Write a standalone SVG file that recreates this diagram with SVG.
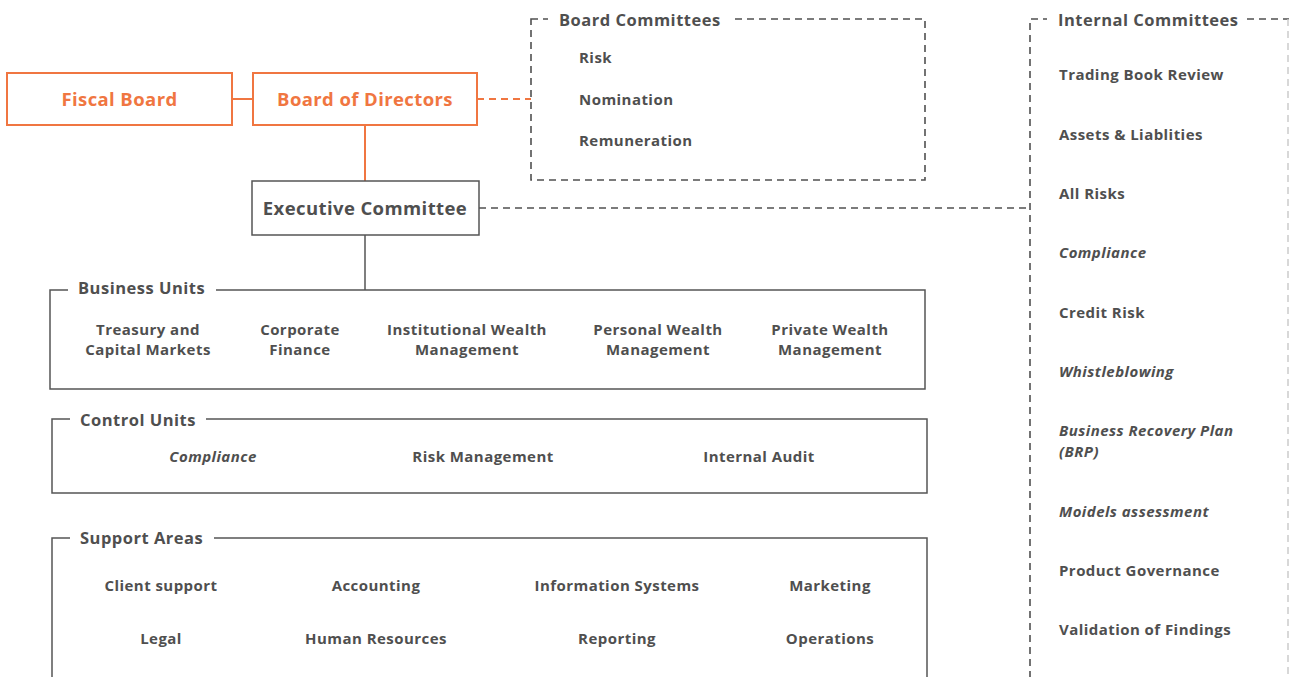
<svg xmlns="http://www.w3.org/2000/svg" width="1289" height="677" viewBox="0 0 1289 677">
  <style>
    text { font-family: "Open Sans", "Liberation Sans", sans-serif; font-weight: 700; fill: #4f4f4f; }
    .node { font-size: 18.5px; letter-spacing: 0.4px; text-anchor: middle; }
    .orange { fill: #f07641; }
    .title { font-size: 16.5px; letter-spacing: 0.5px; }
    .item { font-size: 15px; letter-spacing: 0.45px; }
    .mid { text-anchor: middle; }
    .it { font-style: italic; }
    .box { fill: #fff; stroke: #f07641; stroke-width: 2; }
    .gbox { fill: #fff; stroke: #555; stroke-width: 1.5; }
    .frame { fill: none; stroke: #555; stroke-width: 1.5; }
    .dframe { fill: none; stroke: #505050; stroke-width: 1.6; stroke-dasharray: 7 5; }
    .mask { fill: #fff; }
  </style>

  <!-- connectors -->
  <g id="connectors">
    <line x1="232" y1="99" x2="253" y2="99" stroke="#f07641" stroke-width="2"/>
    <line x1="477" y1="99" x2="531" y2="99" stroke="#f07641" stroke-width="2" stroke-dasharray="7 5"/>
    <line x1="365" y1="125" x2="365" y2="181" stroke="#f07641" stroke-width="2"/>
    <line x1="479" y1="208" x2="1030" y2="208" stroke="#505050" stroke-width="1.6" stroke-dasharray="7 5"/>
    <line x1="365" y1="235" x2="365" y2="290" stroke="#555" stroke-width="1.5"/>
  </g>

  <g id="fiscal-board">
    <rect class="box" x="7" y="73" width="225" height="52"/>
    <text class="node orange" x="119.5" y="105.5">Fiscal Board</text>
  </g>

  <g id="board-of-directors">
    <rect class="box" x="253" y="73" width="224" height="52"/>
    <text class="node orange" x="365" y="105.5">Board of Directors</text>
  </g>

  <g id="executive-committee">
    <rect class="gbox" x="252" y="181" width="227" height="54"/>
    <text class="node" x="365" y="214.5">Executive Committee</text>
  </g>

  <g id="board-committees">
    <rect class="dframe" x="531" y="19" width="394" height="161"/>
    <rect class="mask" x="548" y="8" width="183" height="24"/>
    <text class="title" x="559" y="26">Board Committees</text>
    <text class="item" x="579" y="63">Risk</text>
    <text class="item" x="579" y="105">Nomination</text>
    <text class="item" x="579" y="146">Remuneration</text>
  </g>

  <g id="internal-committees">
    <path class="dframe" d="M1030 690 V19 H1289"/>
    <line x1="1288" y1="19" x2="1288" y2="690" stroke="#ccc" stroke-width="1.5" stroke-dasharray="7 5"/>
    <rect class="mask" x="1047" y="8" width="198" height="24"/>
    <text class="title" x="1058" y="26">Internal Committees</text>
    <text class="item" x="1059" y="80">Trading Book Review</text>
    <text class="item" x="1059" y="140">Assets &amp; Liablities</text>
    <text class="item" x="1059" y="199">All Risks</text>
    <text class="item it" x="1059" y="258">Compliance</text>
    <text class="item" x="1059" y="318">Credit Risk</text>
    <text class="item it" x="1059" y="377">Whistleblowing</text>
    <text class="item it" x="1059" y="436">Business Recovery Plan</text>
    <text class="item it" x="1059" y="457">(BRP)</text>
    <text class="item it" x="1059" y="517">Moidels assessment</text>
    <text class="item" x="1059" y="576">Product Governance</text>
    <text class="item" x="1059" y="635">Validation of Findings</text>
  </g>

  <g id="business-units">
    <rect class="frame" x="50" y="290" width="875" height="99"/>
    <rect class="mask" x="68" y="278" width="148" height="24"/>
    <text class="title" x="78" y="294">Business Units</text>
    <text class="item mid" x="148" y="335">Treasury and</text>
    <text class="item mid" x="148" y="355">Capital Markets</text>
    <text class="item mid" x="300" y="335">Corporate</text>
    <text class="item mid" x="300" y="355">Finance</text>
    <text class="item mid" x="467" y="335">Institutional Wealth</text>
    <text class="item mid" x="467" y="355">Management</text>
    <text class="item mid" x="658" y="335">Personal Wealth</text>
    <text class="item mid" x="658" y="355">Management</text>
    <text class="item mid" x="830" y="335">Private Wealth</text>
    <text class="item mid" x="830" y="355">Management</text>
  </g>

  <g id="control-units">
    <rect class="frame" x="52" y="419" width="875" height="74"/>
    <rect class="mask" x="70" y="407" width="136" height="24"/>
    <text class="title" x="80" y="426">Control Units</text>
    <text class="item mid it" x="213" y="462">Compliance</text>
    <text class="item mid" x="483" y="462">Risk Management</text>
    <text class="item mid" x="759" y="462">Internal Audit</text>
  </g>

  <g id="support-areas">
    <path class="frame" d="M52 690 V538 H927 V690"/>
    <rect class="mask" x="70" y="526" width="144" height="24"/>
    <text class="title" x="80" y="544">Support Areas</text>
    <text class="item mid" x="161" y="591">Client support</text>
    <text class="item mid" x="376" y="591">Accounting</text>
    <text class="item mid" x="617" y="591">Information Systems</text>
    <text class="item mid" x="830" y="591">Marketing</text>
    <text class="item mid" x="161" y="644">Legal</text>
    <text class="item mid" x="376" y="644">Human Resources</text>
    <text class="item mid" x="617" y="644">Reporting</text>
    <text class="item mid" x="830" y="644">Operations</text>
  </g>
</svg>
